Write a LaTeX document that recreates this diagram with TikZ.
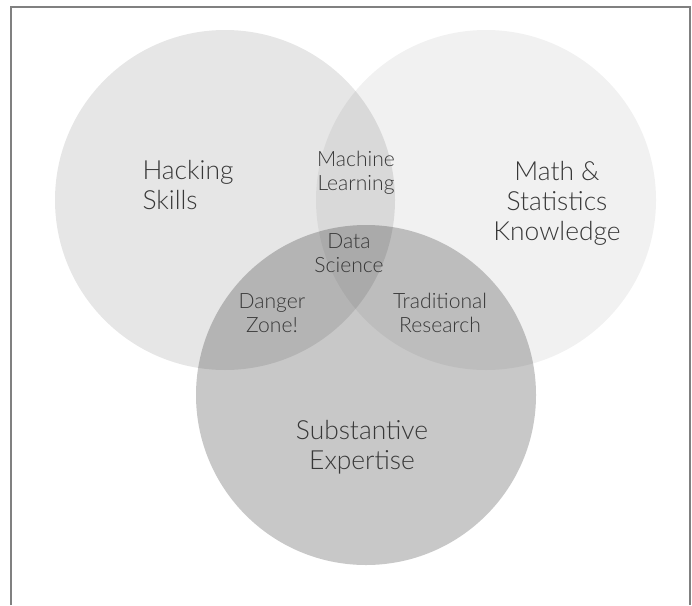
\documentclass[tikz,border=0pt]{standalone}
\usepackage{fontspec}
\setmainfont{Lato Light}
\begin{document}
\begin{tikzpicture}[
        conjunto/.style={fill=black, fill opacity=#1},
        grande/.style={align=center, font=\fontsize{15}{17}\selectfont, text=black!78},
        chica/.style={align=center, font=\fontsize{12}{13.8}\selectfont, text=black!78}]
        \useasboundingbox (0,0) rectangle (13.84,-12.1);
        \coordinate (mi) at (0.22,-12.1);
        \coordinate (si) at (0.22,-0.14);
        \coordinate (sd) at (13.8,-0.14);
        \coordinate (md) at (13.8,-12.1);
        \draw[gray, line width=0.6pt] (mi) -- (si) -- (sd) -- (md);
        \fill[conjunto=0.098] (4.5,-4.0) circle (3.4);
        \fill[conjunto=0.055] (9.72,-4.0) circle (3.4);
        \fill[conjunto=0.215] (7.32,-7.9) circle (3.4);
        \node[grande, align=left] (hack) at (3.76,-3.7) {Hacking\\ Skills};
        \node[grande] (mate) at (11.14,-4.06) {Math \&\\ Statistics\\ Knowledge};
        \node[grande] (sust) at (7.24,-8.94) {Substantive\\ Expertise};
        \node[chica] (maqu) at (7.12,-3.46) {Machine\\ Learning};
        \node[chica] (dato) at (6.98,-5.06) {Data\\ Science};
        \node[chica] (peli) at (5.44,-6.26) {Danger\\ Zone!};
        \node[chica] (trad) at (8.8,-6.26) {Traditional\\ Research};
    \end{tikzpicture}
\end{document}
